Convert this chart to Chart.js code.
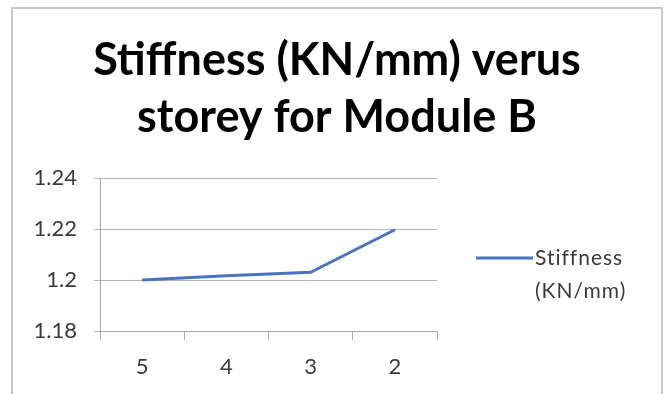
<!DOCTYPE html>
<html>
<head>
<meta charset="utf-8">
<script src="https://cdn.jsdelivr.net/npm/chart.js@4/dist/chart.umd.min.js"></script>
<style>
  html, body { margin: 0; padding: 0; background: #fff; }
  #wrap { position: relative; width: 666px; height: 394px; overflow: hidden; }
  #frame {
    position: absolute; left: 11px; top: 7px; width: 648px; height: 400px;
    border: 2px solid #c8c8c8; border-bottom: none; pointer-events: none;
  }
</style>
</head>
<body>
<div id="wrap">
  <canvas id="chart" width="666" height="394"></canvas>
  <div id="frame"></div>
</div>
<script>
const titleLines = ['Stiffness (KN/mm) verus', 'storey for Module B'];
const storeys = ['5', '4', '3', '2'];
const stiffness = [1.2, 1.2017, 1.203, 1.2197];
const seriesLabel = ['Stiffness', '(KN/mm)'];
const yMin = 1.18;
const yMax = 1.24;
const yStep = 0.02;

const lineColor = '#4a74c2';
const textColor = '#3a3a3a';

// legend drawn by hand so the label can wrap onto two lines like the original
const sideLegend = {
  id: 'sideLegend',
  afterDraw(chart) {
    const ctx = chart.ctx;
    const ds = chart.data.datasets[0];
    const x = 476;
    const y = 258;
    ctx.save();
    ctx.strokeStyle = ds.borderColor;
    ctx.lineWidth = 3;
    ctx.beginPath();
    ctx.moveTo(x, y);
    ctx.lineTo(x + 57, y);
    ctx.stroke();
    ctx.fillStyle = textColor;
    ctx.font = '21px Lato';
    ctx.letterSpacing = '1px';
    ctx.textBaseline = 'middle';
    ctx.textAlign = 'left';
    seriesLabel.forEach((line, i) => {
      ctx.fillText(line, x + 59, y + i * 33);
    });
    ctx.restore();
  }
};

new Chart(document.getElementById('chart'), {
  type: 'line',
  data: {
    labels: storeys,
    datasets: [
      {
        label: seriesLabel.join(' '),
        data: stiffness,
        borderColor: lineColor,
        borderWidth: 3,
        pointRadius: 0,
        fill: false,
        tension: 0,
      },
    ],
  },
  options: {
    responsive: false,
    animation: false,
    layout: {
      padding: { left: 8, right: 0, top: 0, bottom: 0 },
    },
    scales: {
      x: {
        offset: true,
        grid: {
          offset: true,
          drawOnChartArea: false,
          drawTicks: true,
          tickLength: 9,
          color: '#a8a8a8',
        },
        border: { display: true, color: '#a8a8a8', width: 1 },
        ticks: {
          color: textColor,
          font: { family: 'Lato', size: 22 },
          padding: 14,
          maxRotation: 0,
        },
        afterFit(scale) {
          scale.height = 63;
        },
      },
      y: {
        min: yMin,
        max: yMax,
        ticks: {
          stepSize: yStep,
          color: textColor,
          font: { family: 'Lato', size: 22 },
          padding: 17,
          callback: (value) => String(Number(value.toFixed(2))),
        },
        grid: {
          color: '#b4b4b4',
          tickLength: 6,
        },
        border: { display: true, color: '#a8a8a8', width: 1 },
        afterFit(scale) {
          scale.width = 92;
        },
      },
      // empty box on the right that keeps room for the legend
      side: {
        type: 'linear',
        position: 'right',
        grid: { display: false },
        border: { display: false },
        ticks: { display: false },
        afterFit(scale) {
          scale.width = 229;
        },
      },
    },
    plugins: {
      legend: { display: false },
      tooltip: { enabled: false },
      title: {
        display: true,
        text: titleLines,
        color: '#000',
        font: { family: 'Lato', weight: 'bold', size: 45, lineHeight: 57 / 45 },
        padding: { top: 32, bottom: 32 },
      },
    },
  },
  plugins: [sideLegend],
});
</script>
</body>
</html>
